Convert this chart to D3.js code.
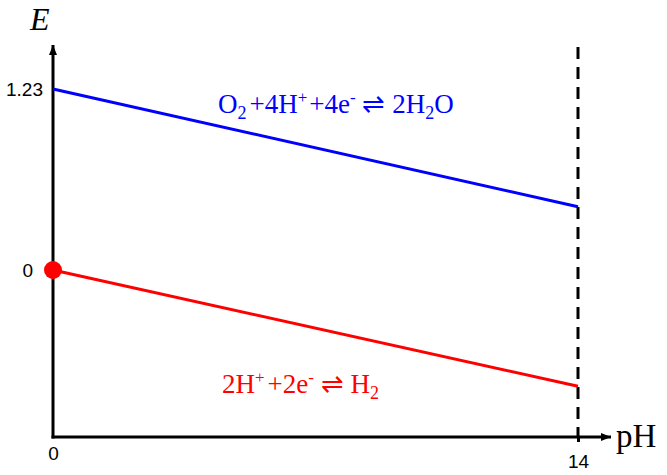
<!DOCTYPE html>
<html><head><meta charset="utf-8">
<script src="https://cdn.jsdelivr.net/npm/d3@7"></script>
<style>body{margin:0;background:#fff}</style>
</head><body>
<script>
// Data
const pH = [0, 14];
const eO2 = [1.23, 0.43];   // O2/H2O line
const eH2 = [0, -0.79];     // H+/H2 line
const xTicks = [0, 14];
const yTicks = [0, 1.23];
const yTickLabels = ["0", "1.23"];

const W = 667, H = 475;
const svg = d3.select("body").append("svg").attr("width", W).attr("height", H);

const x = d3.scaleLinear().domain([0, 14]).range([53, 578]);
const y = d3.scaleLinear().domain([0, 1.23]).range([270, 89]);
const xAxisY = 437, yTop = 45, xRight = 611;
const sans = "Liberation Sans, Arial, sans-serif";
const serif = "Liberation Serif, Times New Roman, serif";

const defs = svg.append("defs");
defs.append("marker").attr("id", "arr").attr("viewBox", "0 0 10 10")
  .attr("refX", 10).attr("refY", 5).attr("markerWidth", 10).attr("markerHeight", 10)
  .attr("markerUnits", "userSpaceOnUse").attr("orient", "auto")
  .append("path").attr("d", "M0,1 L10,5 L0,9 Z").attr("fill", "#000");

// dashed line at pH 14
svg.append("line").attr("x1", x(14)).attr("x2", x(14)).attr("y1", 47).attr("y2", xAxisY)
  .attr("stroke", "#000").attr("stroke-width", 3).attr("stroke-dasharray", "12,8");

// axes
svg.append("line").attr("x1", x(0)).attr("x2", x(0)).attr("y1", xAxisY + 1.5).attr("y2", yTop)
  .attr("stroke", "#000").attr("stroke-width", 3).attr("marker-end", "url(#arr)");
svg.append("line").attr("x1", x(0) - 1.5).attr("x2", xRight).attr("y1", xAxisY).attr("y2", xAxisY)
  .attr("stroke", "#000").attr("stroke-width", 3).attr("marker-end", "url(#arr)");

// x axis ticks via d3 axis
const xa = svg.append("g").attr("transform", `translate(0,${xAxisY})`)
  .call(d3.axisBottom(x).tickValues(xTicks).tickSize(5).tickFormat(d3.format("d")));
xa.select(".domain").remove();
xa.selectAll(".tick line").attr("stroke-width", 3).attr("display", d => d === 0 ? "none" : null);
xa.selectAll(".tick text").attr("font-family", sans).style("font-size", "19px").attr("fill", "#000")
  .attr("dy", null).attr("y", d => d === 0 ? 23 : 31);

// y axis ticks
const ya = svg.append("g").attr("transform", `translate(${x(0)},0)`)
  .call(d3.axisLeft(y).tickValues(yTicks).tickSize(0)
    .tickFormat((d, i) => yTickLabels[i]));
ya.select(".domain").remove();
ya.selectAll(".tick text").attr("font-family", sans).style("font-size", "19px").attr("fill", "#000")
  .attr("x", d => d === 0 ? -20 : -10).attr("dy", "0.35em");

// lines
const line = d3.line().x(d => x(d[0])).y(d => y(d[1]));
svg.append("path").datum(pH.map((p, i) => [p, eO2[i]])).attr("d", line)
  .attr("fill", "none").attr("stroke", "#0000ff").attr("stroke-width", 3);
svg.append("path").datum(pH.map((p, i) => [p, eH2[i]])).attr("d", line)
  .attr("fill", "none").attr("stroke", "#ff0000").attr("stroke-width", 3);

// red dot
svg.append("circle").attr("cx", x(0)).attr("cy", y(0)).attr("r", 9).attr("fill", "#ff0000");

// axis labels
svg.append("text").attr("x", 30).attr("y", 30).attr("font-family", serif)
  .attr("font-style", "italic").style("font-size", "32px").text("E");
svg.append("text").attr("x", 616).attr("y", 447).attr("font-family", serif)
  .style("font-size", "33px").text("pH");

// equations
function eq(xp, yp, color, parts) {
  const t = svg.append("text").attr("x", xp).attr("y", yp)
    .attr("font-family", serif).style("font-size", "27px").attr("fill", color);
  parts.forEach(p => {
    const s = t.append("tspan").text(p.t);
    if (p.sub) s.style("font-size", "18px").attr("dy", 6);
    if (p.sup) s.style("font-size", "17px").attr("dy", -10);
    if (p.back) s.attr("dy", p.back);
    if (p.dx) s.attr("dx", p.dx);
  });
}
eq(218, 113, "#0000ff", [
  {t: "O"}, {t: "2", sub: true}, {t: "+4H", back: -6, dx: 3}, {t: "+", sup: true},
  {t: "+4e", back: 10, dx: 2}, {t: "-", sup: true}, {t: " ⇌ 2H", back: 10}, {t: "2", sub: true},
  {t: "O", back: -6}
]);
eq(222, 393, "#ff0000", [
  {t: "2H"}, {t: "+", sup: true}, {t: "+2e", back: 10, dx: 3}, {t: "-", sup: true},
  {t: " ⇌ H", back: 10}, {t: "2", sub: true}
]);
</script>
</body></html>
